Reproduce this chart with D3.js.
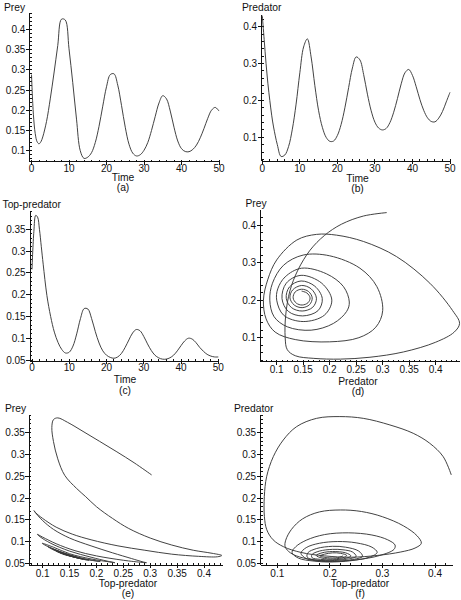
<!DOCTYPE html>
<html>
<head>
<meta charset="utf-8">
<script src="https://cdn.jsdelivr.net/npm/d3@7"></script>
<style>
  body { margin: 0; background: #fff; }
  text { font-family: "Liberation Sans", Arial, sans-serif; fill: #111; }
</style>
</head>
<body>
<svg id="chart" width="461" height="600"></svg>
<script>
// time samples shared by the three time series
const times = [0, 0.5, 1, 1.5, 2, 2.5, 3, 4, 5, 6, 7, 8, 9, 10, 11, 12, 13, 14, 15, 16, 17, 18, 19, 20,
  21, 22, 23, 24, 25, 26, 27, 28, 29, 30, 31, 32, 33, 34, 35, 36, 37, 38, 39, 40, 41, 42, 43, 44, 45,
  46, 47, 48, 49, 50];

const prey = [0.288, 0.19, 0.142, 0.122, 0.117, 0.122, 0.134, 0.172, 0.228, 0.292, 0.36, 0.425, 0.423,
  0.352, 0.268, 0.178, 0.1, 0.081, 0.084, 0.095, 0.12, 0.16, 0.21, 0.258, 0.288, 0.29, 0.262, 0.212,
  0.158, 0.116, 0.094, 0.087, 0.09, 0.101, 0.12, 0.15, 0.185, 0.218, 0.236, 0.228, 0.198, 0.158, 0.124,
  0.105, 0.098, 0.0975, 0.103, 0.114, 0.132, 0.155, 0.18, 0.2, 0.207, 0.198];

const predator = [0.43, 0.365, 0.3, 0.245, 0.2, 0.16, 0.128, 0.08, 0.048, 0.052, 0.075, 0.122, 0.19,
  0.275, 0.345, 0.367, 0.318, 0.24, 0.172, 0.127, 0.1, 0.089, 0.09, 0.105, 0.135, 0.18, 0.235, 0.288,
  0.318, 0.31, 0.27, 0.217, 0.172, 0.141, 0.125, 0.12, 0.124, 0.14, 0.168, 0.205, 0.245, 0.275, 0.284,
  0.268, 0.237, 0.202, 0.173, 0.153, 0.143, 0.142, 0.152, 0.17, 0.196, 0.222];

const topPredator = [0.258, 0.345, 0.382, 0.378, 0.35, 0.31, 0.27, 0.198, 0.15, 0.114, 0.09, 0.074,
  0.066, 0.068, 0.082, 0.11, 0.145, 0.168, 0.167, 0.145, 0.115, 0.089, 0.071, 0.061, 0.056, 0.054,
  0.057, 0.065, 0.079, 0.096, 0.112, 0.12, 0.117, 0.104, 0.087, 0.072, 0.061, 0.055, 0.052, 0.052,
  0.055, 0.061, 0.071, 0.083, 0.094, 0.1, 0.098, 0.09, 0.079, 0.07, 0.063, 0.059, 0.057, 0.057];

// phase portraits, points read along each trajectory in order
const phaseD = [[0.3075, 0.433], [0.264, 0.424], [0.222, 0.402], [0.19, 0.372], [0.163, 0.333],
  [0.14, 0.28], [0.125, 0.225], [0.117, 0.16], [0.116, 0.1], [0.12, 0.068], [0.135, 0.052],
  [0.17, 0.045], [0.22, 0.043], [0.276, 0.048], [0.339, 0.062], [0.4, 0.088], [0.435, 0.115],
  [0.445, 0.138], [0.432, 0.172], [0.389, 0.245], [0.326, 0.316], [0.264, 0.356], [0.213, 0.373],
  [0.175, 0.375], [0.138, 0.36], [0.1, 0.307], [0.083, 0.254], [0.075, 0.2], [0.08, 0.15],
  [0.097, 0.115], [0.135, 0.095], [0.2, 0.089], [0.255, 0.1], [0.287, 0.128], [0.3, 0.172],
  [0.289, 0.236], [0.257, 0.285], [0.2, 0.318], [0.15, 0.32], [0.113, 0.293], [0.092, 0.245],
  [0.087, 0.2], [0.095, 0.156], [0.12, 0.129], [0.165, 0.12], [0.207, 0.138], [0.232, 0.17],
  [0.237, 0.195], [0.226, 0.236], [0.194, 0.27], [0.147, 0.285], [0.116, 0.262], [0.102, 0.23],
  [0.1, 0.2], [0.113, 0.16], [0.15, 0.143], [0.19, 0.16], [0.204, 0.2], [0.185, 0.245],
  [0.146, 0.266], [0.118, 0.245], [0.11, 0.204], [0.122, 0.17], [0.149, 0.158], [0.178, 0.172],
  [0.186, 0.204], [0.172, 0.237], [0.146, 0.251], [0.124, 0.235], [0.118, 0.205], [0.128, 0.18],
  [0.148, 0.171], [0.168, 0.181], [0.175, 0.205], [0.165, 0.23], [0.147, 0.239], [0.13, 0.227],
  [0.125, 0.206], [0.133, 0.187], [0.148, 0.18], [0.162, 0.188], [0.167, 0.206], [0.16, 0.223],
  [0.147, 0.229], [0.135, 0.222], [0.131, 0.206], [0.137, 0.192], [0.148, 0.187], [0.159, 0.193],
  [0.163, 0.206], [0.157, 0.219], [0.147, 0.224]];

const phaseE = [[0.3026, 0.253], [0.27, 0.281], [0.238, 0.306], [0.206, 0.33], [0.175, 0.353],
  [0.146, 0.374], [0.128, 0.384], [0.12, 0.38], [0.117, 0.362], [0.12, 0.33], [0.128, 0.29],
  [0.141, 0.252], [0.163, 0.222], [0.18, 0.203], [0.2, 0.18], [0.23, 0.153], [0.26, 0.13],
  [0.3, 0.108], [0.34, 0.092], [0.38, 0.08], [0.415, 0.073], [0.433, 0.068], [0.425, 0.065],
  [0.39, 0.066], [0.34, 0.071], [0.29, 0.08], [0.24, 0.09], [0.19, 0.104], [0.155, 0.117],
  [0.125, 0.133], [0.1, 0.153], [0.087, 0.166], [0.0838, 0.171], [0.088, 0.164], [0.1, 0.148],
  [0.12, 0.128], [0.15, 0.108], [0.19, 0.09], [0.23, 0.074], [0.265, 0.061], [0.287, 0.053],
  [0.293, 0.0514], [0.285, 0.052], [0.25, 0.057], [0.2, 0.067], [0.16, 0.079], [0.125, 0.095],
  [0.1, 0.11], [0.09, 0.1166], [0.095, 0.111], [0.115, 0.096], [0.15, 0.078], [0.19, 0.064],
  [0.22, 0.055], [0.2344, 0.0514], [0.225, 0.053], [0.19, 0.06], [0.15, 0.072], [0.12, 0.087],
  [0.099, 0.096], [0.104, 0.092], [0.125, 0.08], [0.16, 0.066], [0.19, 0.057], [0.207, 0.054],
  [0.2, 0.0555], [0.17, 0.062], [0.14, 0.0735], [0.118, 0.084], [0.11, 0.088], [0.118, 0.082],
  [0.14, 0.071], [0.165, 0.062], [0.186, 0.057], [0.17, 0.0605], [0.145, 0.07], [0.125, 0.08],
  [0.118, 0.083], [0.13, 0.076], [0.155, 0.066], [0.175, 0.06], [0.16, 0.064], [0.14, 0.072],
  [0.125, 0.078], [0.14, 0.07], [0.167, 0.062], [0.15, 0.067], [0.131, 0.075], [0.145, 0.069],
  [0.163, 0.063]];

const phaseF = [[0.431, 0.253], [0.4156, 0.295], [0.39, 0.3257], [0.3586, 0.3486], [0.3142, 0.3678],
  [0.2635, 0.383], [0.219, 0.387], [0.1748, 0.383], [0.1368, 0.364], [0.1114, 0.3333],
  [0.0924, 0.295], [0.0797, 0.249], [0.0753, 0.203], [0.0755, 0.157], [0.08, 0.127], [0.092, 0.104],
  [0.112, 0.088], [0.145, 0.075], [0.19, 0.067], [0.24, 0.064], [0.29, 0.068], [0.335, 0.076],
  [0.362, 0.085], [0.374, 0.096], [0.366, 0.113], [0.34, 0.136], [0.3, 0.157], [0.26, 0.169],
  [0.22, 0.1725], [0.18, 0.168], [0.148, 0.152], [0.127, 0.128], [0.116, 0.103], [0.115, 0.088],
  [0.125, 0.074], [0.15, 0.062], [0.2, 0.055], [0.25, 0.058], [0.295, 0.068], [0.322, 0.082],
  [0.324, 0.092], [0.31, 0.104], [0.28, 0.115], [0.235, 0.12], [0.19, 0.116], [0.155, 0.103],
  [0.135, 0.088], [0.128, 0.075], [0.14, 0.062], [0.17, 0.055], [0.2, 0.053], [0.24, 0.056],
  [0.275, 0.064], [0.29, 0.075], [0.28, 0.087], [0.25, 0.097], [0.215, 0.1], [0.18, 0.096],
  [0.155, 0.086], [0.145, 0.073], [0.155, 0.061], [0.18, 0.055], [0.205, 0.054], [0.24, 0.058],
  [0.262, 0.066], [0.255, 0.078], [0.23, 0.087], [0.205, 0.089], [0.175, 0.084], [0.158, 0.074],
  [0.157, 0.064], [0.17, 0.058], [0.2, 0.056], [0.235, 0.06], [0.25, 0.066], [0.243, 0.076],
  [0.225, 0.081], [0.205, 0.082], [0.18, 0.078], [0.166, 0.07], [0.166, 0.063], [0.182, 0.059],
  [0.205, 0.058], [0.232, 0.062], [0.24, 0.067], [0.23, 0.074], [0.205, 0.077], [0.185, 0.074],
  [0.174, 0.068], [0.185, 0.062], [0.207, 0.06], [0.228, 0.064], [0.232, 0.068], [0.22, 0.073],
  [0.205, 0.074], [0.19, 0.071], [0.181, 0.067], [0.195, 0.063], [0.215, 0.063], [0.225, 0.067]];

// tick labels
const timeTicks = [0, 10, 20, 30, 40, 50];
const ticks005a = [0.1, 0.15, 0.2, 0.25, 0.3, 0.35, 0.4];
const ticks01b = [0.1, 0.2, 0.3, 0.4];
const ticks005c = [0.05, 0.1, 0.15, 0.2, 0.25, 0.3, 0.35];
const ticksDx = [0.1, 0.15, 0.2, 0.25, 0.3, 0.35, 0.4];
const ticksDy = [0.1, 0.2, 0.3, 0.4];
const ticksEx = [0.1, 0.15, 0.2, 0.25, 0.3, 0.35, 0.4];
const ticksEy = [0.05, 0.1, 0.15, 0.2, 0.25, 0.3, 0.35];
const ticksFx = [0.1, 0.2, 0.3, 0.4];
const ticksFy = [0.05, 0.1, 0.15, 0.2, 0.25, 0.3, 0.35];

const svg = d3.select("#chart");
const TICK_FONT = 10;
const LABEL_FONT = 10.3;

const panels = [
  {
    xDomain: [0, 50], xRange: [31.5, 219], yDomain: [0.1, 0.4], yRange: [150.7, 29.3],
    axisX: 29.8, axisY: 161.7, xEnd: 219.5, yTop: 13,
    xTicks: timeTicks, xMinor: 2, yTicks: ticks005a, yMinor: 0.01,
    yLabel: "Prey", yLabelAt: [4, 10.5], xLabel: "Time", xLabelAt: [123, 180.8],
    tag: "(a)", tagY: 190.9, tickLabelY: 172,
    points: times.map((t, i) => [t, prey[i]]),
  },
  {
    xDomain: [0, 50], xRange: [262.3, 450], yDomain: [0.1, 0.4], yRange: [137.3, 26.7],
    axisX: 261.7, axisY: 161, xEnd: 450.5, yTop: 15,
    xTicks: timeTicks, xMinor: 2, yTicks: ticks01b, yMinor: 0.02,
    yLabel: "Predator", yLabelAt: [242, 10.5], xLabel: "Time", xLabelAt: [357.5, 181.8],
    tag: "(b)", tagY: 191.9, tickLabelY: 171.5,
    points: times.map((t, i) => [t, predator[i]]),
  },
  {
    xDomain: [0, 50], xRange: [32, 218.3], yDomain: [0.05, 0.35], yRange: [360, 229.3],
    axisX: 30.2, axisY: 361, xEnd: 218.8, yTop: 211.5,
    xTicks: timeTicks, xMinor: 2, yTicks: ticks005c, yMinor: 0.01,
    yLabel: "Top-predator", yLabelAt: [2.5, 208], xLabel: "Time", xLabelAt: [125, 382.5],
    tag: "(c)", tagY: 394, tickLabelY: 370.5,
    points: times.map((t, i) => [t, topPredator[i]]),
  },
  {
    xDomain: [0.1, 0.4], xRange: [276.7, 435.7], yDomain: [0.1, 0.4], yRange: [337.7, 225],
    axisX: 260.7, axisY: 361.7, xEnd: 460, yTop: 210,
    xTicks: ticksDx, xMinor: 0.01, yTicks: ticksDy, yMinor: 0.02,
    yLabel: "Prey", yLabelAt: [245.5, 206.5], xLabel: "Predator", xLabelAt: [358, 385],
    tag: "(d)", tagY: 395, tickLabelY: 373,
    points: phaseD,
  },
  {
    xDomain: [0.1, 0.4], xRange: [42.7, 204], yDomain: [0.05, 0.35], yRange: [563.3, 432.7],
    axisX: 29.3, axisY: 565, xEnd: 223, yTop: 415,
    xTicks: ticksEx, xMinor: 0.01, yTicks: ticksEy, yMinor: 0.01,
    yLabel: "Prey", yLabelAt: [5, 411.5], xLabel: "Top-predator", xLabelAt: [128, 586.5],
    tag: "(e)", tagY: 597, tickLabelY: 576.5,
    points: phaseE,
  },
  {
    xDomain: [0.1, 0.4], xRange: [277.3, 435], yDomain: [0.05, 0.35], yRange: [563.3, 432.7],
    axisX: 260.7, axisY: 565, xEnd: 453, yTop: 415,
    xTicks: ticksFx, xMinor: 0.02, yTicks: ticksFy, yMinor: 0.01,
    yLabel: "Predator", yLabelAt: [234, 411.5], xLabel: "Top-predator", xLabelAt: [360, 586.5],
    tag: "(f)", tagY: 597, tickLabelY: 576.5,
    points: phaseF,
  },
];

function minorValues(lo, hi, step) {
  const out = [];
  const start = Math.ceil(lo / step - 1e-6);
  const end = Math.floor(hi / step + 1e-6);
  for (let k = start; k <= end; k++) out.push(+(k * step).toFixed(6));
  return out;
}

function drawPanel(p) {
  const g = svg.append("g");
  const x = d3.scaleLinear().domain(p.xDomain).range(p.xRange);
  const y = d3.scaleLinear().domain(p.yDomain).range(p.yRange);

  const axes = g.append("g").attr("stroke", "#111").attr("stroke-width", 1).attr("shape-rendering", "crispEdges");
  axes.append("line").attr("x1", p.axisX).attr("x2", p.xEnd).attr("y1", p.axisY).attr("y2", p.axisY);
  axes.append("line").attr("x1", p.axisX).attr("x2", p.axisX).attr("y1", p.axisY).attr("y2", p.yTop);

  // minor ticks sit inside the axes
  const xLo = x.invert(p.axisX), xHi = x.invert(p.xEnd);
  minorValues(xLo, xHi, p.xMinor).forEach((v) => {
    axes.append("line").attr("x1", x(v)).attr("x2", x(v))
      .attr("y1", p.axisY).attr("y2", p.axisY - 2);
  });
  const yLo = y.invert(p.axisY), yHi = y.invert(p.yTop);
  minorValues(yLo, yHi, p.yMinor).forEach((v) => {
    axes.append("line").attr("x1", p.axisX).attr("x2", p.axisX + 2)
      .attr("y1", y(v)).attr("y2", y(v));
  });

  // major ticks point outward
  p.xTicks.forEach((v) => {
    axes.append("line").attr("x1", x(v)).attr("x2", x(v))
      .attr("y1", p.axisY + 3).attr("y2", p.axisY - 2);
  });
  p.yTicks.forEach((v) => {
    axes.append("line").attr("x1", p.axisX - 4).attr("x2", p.axisX + 2)
      .attr("y1", y(v)).attr("y2", y(v));
  });

  g.selectAll(".xt").data(p.xTicks).enter().append("text")
    .attr("x", (d) => x(d)).attr("y", p.tickLabelY)
    .attr("text-anchor", "middle").attr("font-size", TICK_FONT)
    .text((d) => d3.format("~g")(d));
  g.selectAll(".yt").data(p.yTicks).enter().append("text")
    .attr("x", p.axisX - 4.5).attr("y", (d) => y(d)).attr("dy", "0.36em")
    .attr("text-anchor", "end").attr("font-size", TICK_FONT)
    .text((d) => d3.format("~g")(d));

  g.append("text").attr("x", p.yLabelAt[0]).attr("y", p.yLabelAt[1])
    .attr("font-size", LABEL_FONT).text(p.yLabel);
  g.append("text").attr("x", p.xLabelAt[0]).attr("y", p.xLabelAt[1])
    .attr("text-anchor", "middle").attr("font-size", LABEL_FONT).text(p.xLabel);
  g.append("text").attr("x", p.xLabelAt[0]).attr("y", p.tagY)
    .attr("text-anchor", "middle").attr("font-size", LABEL_FONT).text(p.tag);

  const line = d3.line()
    .x((d) => x(d[0]))
    .y((d) => y(d[1]))
    .curve(d3.curveCatmullRom.alpha(0.5));
  g.append("path").datum(p.points)
    .attr("d", line)
    .attr("fill", "none")
    .attr("stroke", "#383838")
    .attr("stroke-width", 0.95);
}

panels.forEach(drawPanel);
</script>
</body>
</html>
